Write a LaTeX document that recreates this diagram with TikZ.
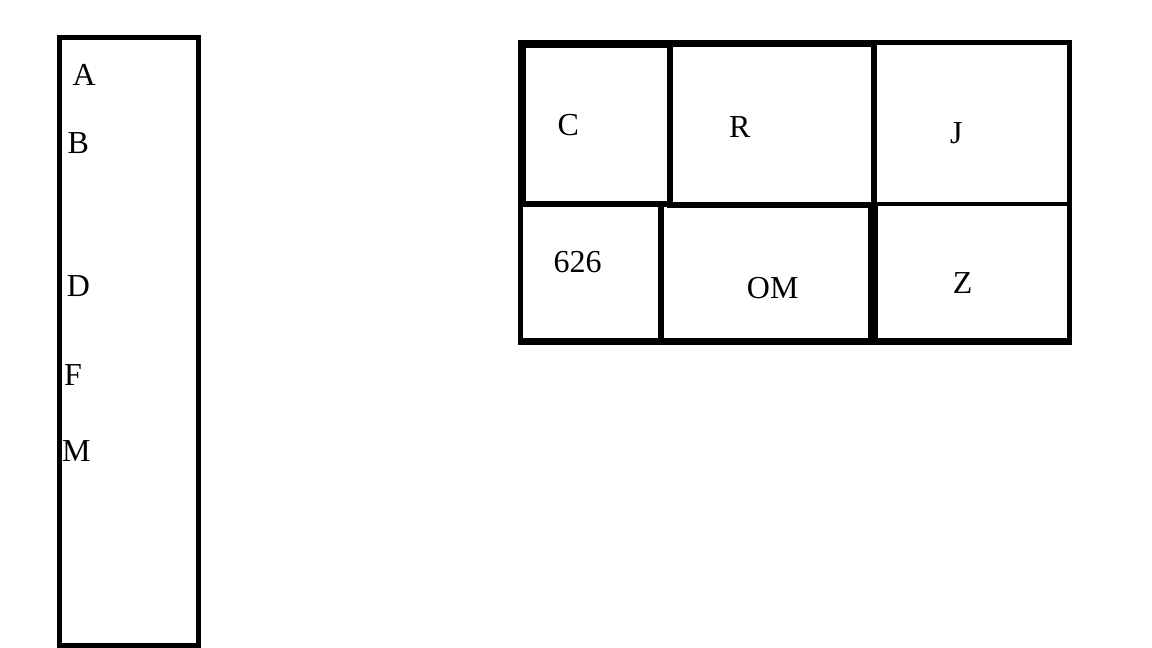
\documentclass[tikz,border=0pt]{standalone}
\usepackage{fontspec}
\setmainfont{Liberation Serif}
\begin{document}
\begin{tikzpicture}[x=1pt,y=-1pt,
  lbl/.style={anchor=base west,inner sep=0pt,font=\fontsize{32}{36}\selectfont},
  rule/.style={line width=#1pt}]
\useasboundingbox (0,0) rectangle (1152,648);
% left column box
\draw[line width=5pt] (59.5,37.5) rectangle (198.5,645);
\node[lbl] (a) at (72.3,85) {A};
\node[lbl] (b) at (67.3,153.3) {B};
\node[lbl] (d) at (66.7,296.7) {D};
\node[lbl] (f) at (64,385) {F};
\node[lbl] (m) at (62,461) {M};
% grid
\draw[rule=5] (669,42.5) -- (1071.5,42.5);
\draw[rule=5] (1069,40) -- (1069,341.5);
\draw[rule=7] (518,341.5) -- (1071.5,341.5);
\draw[rule=8] (521.7,40) -- (521.7,204);
\draw[rule=8] (517.7,44) -- (669,44);
\draw[rule=7] (669,43.5) -- (876,43.5);
\draw[rule=5] (520.5,204) -- (520.5,341.5);
\draw[rule=6] (669.7,44) -- (669.7,204);
\draw[rule=6] (874,43.5) -- (874,204);
\draw[rule=6] (518,203.7) -- (667,203.7);
\draw[rule=6] (667,205) -- (874,205);
\draw[rule=4.5] (874,204) -- (1069,204);
\draw[rule=6] (661.3,204) -- (661.3,341);
\draw[rule=10] (873,205) -- (873,341);
\node[lbl] (c) at (557.3,135.3) {C};
\node[lbl] (r) at (729,137.3) {R};
\node[lbl] (j) at (950,143) {J};
\node[lbl] (n626) at (553.3,272.7) {626};
\node[lbl] (om) at (746.7,298.3) {OM};
\node[lbl] (z) at (952.7,293.3) {Z};
\end{tikzpicture}
\end{document}
